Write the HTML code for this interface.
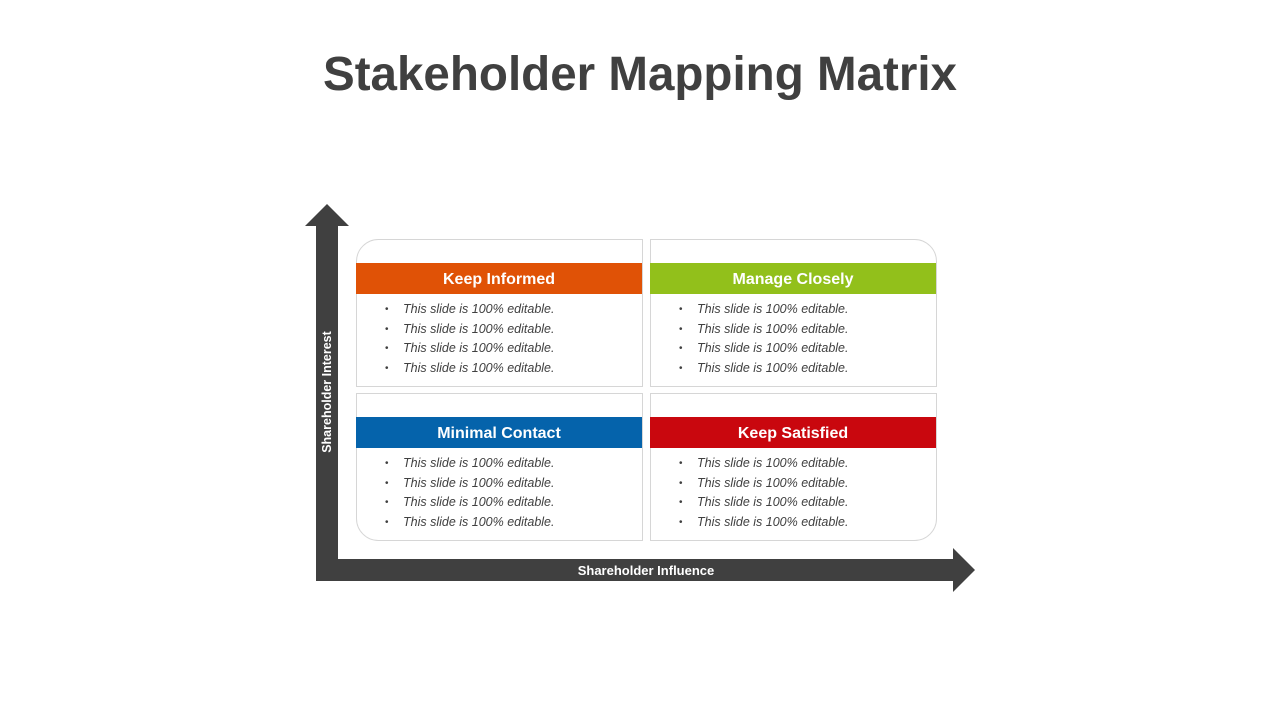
<!DOCTYPE html>
<html><head><meta charset="utf-8"><style>
html,body{margin:0;padding:0;background:#fff;}
svg{display:block;}
text{font-family:"Liberation Sans",sans-serif;}
.h{fill:#fff;font-weight:bold;font-size:16px;}
.b{fill:#404040;font-style:italic;font-size:12.5px;}
.d{fill:#404040;font-size:10px;}
</style></head><body>
<svg width="1280" height="720" viewBox="0 0 1280 720" xmlns="http://www.w3.org/2000/svg">
<text x="640" y="90" text-anchor="middle" font-size="48" font-weight="bold" fill="#404040" textLength="634" lengthAdjust="spacingAndGlyphs">Stakeholder Mapping Matrix</text>

<!-- axes -->
<polygon fill="#404040" points="305,226 327,204 349,226 338,226 338,559 953,559 953,548 975,570 953,592 953,581 316,581 316,226"/>
<text x="327" y="392" transform="rotate(-90 327 392)" text-anchor="middle" dominant-baseline="central" font-size="12.5" font-weight="bold" fill="#fff">Shareholder Interest</text>
<text x="646" y="575" text-anchor="middle" font-size="13" font-weight="bold" fill="#fff">Shareholder Influence</text>

<!-- boxes -->
<g fill="#fff" stroke="#d6d6d6" stroke-width="1">
<path d="M356.5,386.5 V261.5 A22,22 0 0 1 378.5,239.5 H642.5 V386.5 Z"/>
<path d="M650.5,386.5 V239.5 H914.5 A22,22 0 0 1 936.5,261.5 V386.5 Z"/>
<path d="M356.5,393.5 H642.5 V540.5 H378.5 A22,22 0 0 1 356.5,518.5 Z"/>
<path d="M650.5,393.5 H936.5 V518.5 A22,22 0 0 1 914.5,540.5 H650.5 Z"/>
</g>
<rect x="356" y="263" width="286" height="31" fill="#e05206"/>
<rect x="650" y="263" width="286" height="31" fill="#92c01b"/>
<rect x="356" y="417" width="286" height="31" fill="#0563ab"/>
<rect x="650" y="417" width="286" height="31" fill="#c9070e"/>
<text class="h" x="499" y="284" text-anchor="middle">Keep Informed</text>
<text class="h" x="793" y="284" text-anchor="middle">Manage Closely</text>
<text class="h" x="499" y="438" text-anchor="middle">Minimal Contact</text>
<text class="h" x="793" y="438" text-anchor="middle">Keep Satisfied</text>

<g>
<text class="d" x="385" y="312">•</text><text class="b" x="403" y="313">This slide is 100% editable.</text>
<text class="d" x="385" y="332">•</text><text class="b" x="403" y="333">This slide is 100% editable.</text>
<text class="d" x="385" y="351">•</text><text class="b" x="403" y="352">This slide is 100% editable.</text>
<text class="d" x="385" y="371">•</text><text class="b" x="403" y="372">This slide is 100% editable.</text>

<text class="d" x="679" y="312">•</text><text class="b" x="697" y="313">This slide is 100% editable.</text>
<text class="d" x="679" y="332">•</text><text class="b" x="697" y="333">This slide is 100% editable.</text>
<text class="d" x="679" y="351">•</text><text class="b" x="697" y="352">This slide is 100% editable.</text>
<text class="d" x="679" y="371">•</text><text class="b" x="697" y="372">This slide is 100% editable.</text>

<text class="d" x="385" y="466">•</text><text class="b" x="403" y="467">This slide is 100% editable.</text>
<text class="d" x="385" y="486">•</text><text class="b" x="403" y="487">This slide is 100% editable.</text>
<text class="d" x="385" y="505">•</text><text class="b" x="403" y="506">This slide is 100% editable.</text>
<text class="d" x="385" y="525">•</text><text class="b" x="403" y="526">This slide is 100% editable.</text>

<text class="d" x="679" y="466">•</text><text class="b" x="697" y="467">This slide is 100% editable.</text>
<text class="d" x="679" y="486">•</text><text class="b" x="697" y="487">This slide is 100% editable.</text>
<text class="d" x="679" y="505">•</text><text class="b" x="697" y="506">This slide is 100% editable.</text>
<text class="d" x="679" y="525">•</text><text class="b" x="697" y="526">This slide is 100% editable.</text>
</g>
</svg>
</body></html>
